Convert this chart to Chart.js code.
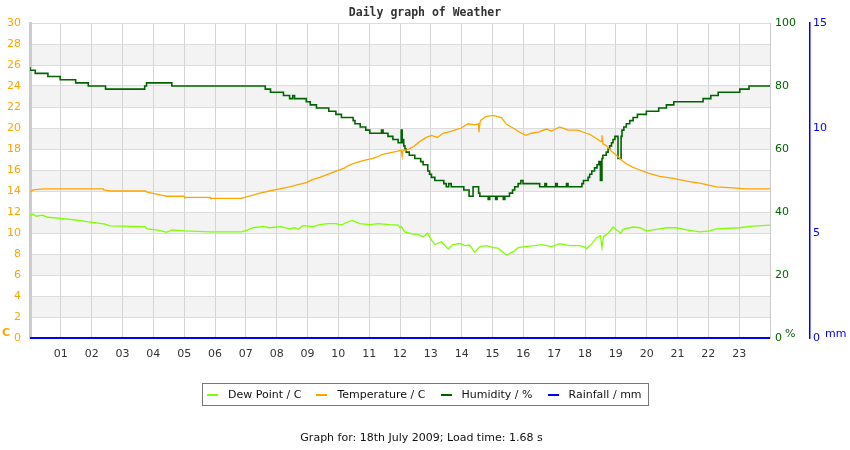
<!DOCTYPE html>
<html>
<head>
<meta charset="utf-8">
<script src="https://cdn.jsdelivr.net/npm/chart.js@4.4.1/dist/chart.umd.min.js"></script>
<style>
  body { margin: 0; background: #fff; font-family: "DejaVu Sans", sans-serif; }
  #wrap { position: relative; width: 850px; height: 450px; }
  #legend { position: absolute; left: 202px; top: 383px; width: 445px; height: 21px;
            border: 1px solid #777; display: flex; align-items: center; font-size: 11px; color: #111;
            white-space: nowrap; }
  #legend .item { display: flex; align-items: center; margin-left: 4px; margin-right: 11px; }
  #legend .sw { width: 11px; height: 2px; margin-right: 10px; }
  #footer { position: absolute; left: 0; width: 843px; top: 431px; text-align: center; font-size: 11px; color: #111; }
</style>
</head>
<body>
<div id="wrap">
  <canvas id="weatherChart" width="850" height="450"></canvas>
  <div id="legend"></div>
  <div id="footer">Graph for: 18th July 2009; Load time: 1.68 s</div>
</div>
<script>
// hours of the day (0-24)
var humTimes = [0, 0.17, 0.58, 0.98, 1.48, 1.89, 2.45, 3.72, 3.78, 4.6, 7.63, 7.8, 8.22, 8.42, 8.52, 8.58, 8.96, 9.09, 9.29, 9.69,
    9.92, 10.1, 10.48, 10.54, 10.71, 10.89, 11.02, 11.4, 11.45, 11.61, 11.77, 11.94, 12.04, 12.07, 12.09, 12.12, 12.16, 12.2, 12.3, 12.48,
    12.67, 12.75, 12.9, 12.96, 13.02, 13.13, 13.42, 13.5, 13.58, 13.66, 14.07, 14.24, 14.37, 14.55, 14.59, 14.86, 14.91, 15.1, 15.15, 15.35,
    15.4, 15.55, 15.65, 15.72, 15.83, 15.92, 15.99, 16.53, 16.7, 16.75, 17.05, 17.1, 17.4, 17.45, 17.9, 17.95, 18.1, 18.15, 18.22, 18.31,
    18.39, 18.45, 18.5, 18.55, 18.58, 18.69, 18.75, 18.8, 18.86, 18.91, 18.97, 19.07, 19.17, 19.2, 19.26, 19.34, 19.45, 19.56, 19.7, 19.99,
    20.39, 20.64, 20.88, 21.83, 22.08, 22.32, 23.02, 23.32, 23.95, 24];
var humValues = [86, 85, 84, 83, 82, 81, 80, 79, 80, 81, 80, 79, 78, 77, 76, 77, 76, 75, 74, 73,
    72, 71, 70, 69, 68, 67, 66, 65, 66, 65, 64, 63, 62, 66, 62, 63, 61, 60, 59, 58,
    57, 56, 55, 53, 52, 51, 50, 49, 48, 49, 48, 47, 45, 48, 46, 45, 44, 45, 44, 45,
    44, 45, 46, 47, 48, 49, 50, 49, 48, 49, 48, 49, 48, 49, 48, 49, 50, 51, 52, 53,
    54, 55, 56, 50, 57, 58, 59, 60, 61, 62, 63, 64, 57, 64, 66, 67, 68, 69, 70, 71,
    72, 73, 74, 75, 76, 77, 78, 79, 80, 80];

var tempTimes = [0, 0.1, 0.44, 2.37, 2.4, 2.6, 3.74, 3.8, 3.95, 4.1, 4.26, 4.42, 5.0, 5.02, 5.84, 5.86, 6.85, 7.02, 7.23, 7.45,
    7.77, 8.1, 8.42, 8.69, 8.96, 9.18, 9.4, 9.67, 9.93, 10.21, 10.31, 10.48, 10.8, 11.13, 11.45, 11.77, 11.94, 12.04, 12.07, 12.1,
    12.21, 12.42, 12.64, 12.85, 13.02, 13.21, 13.4, 13.67, 13.99, 14.21, 14.42, 14.55, 14.56, 14.6, 14.64, 14.8, 15.02, 15.29, 15.45, 15.67,
    15.88, 16.07, 16.26, 16.48, 16.75, 16.91, 17.18, 17.45, 17.77, 18.04, 18.15, 18.37, 18.52, 18.55, 18.58, 18.7, 18.85, 19.02, 19.18, 19.34,
    19.56, 19.78, 20.05, 20.42, 20.86, 21.29, 21.72, 22.26, 22.8, 23.23, 24];
var tempValues = [13.9, 14.1, 14.2, 14.2, 14.1, 14.0, 14.0, 13.9, 13.8, 13.7, 13.6, 13.5, 13.5, 13.4, 13.4, 13.3, 13.3, 13.45, 13.6, 13.8,
    14.0, 14.2, 14.4, 14.6, 14.8, 15.1, 15.3, 15.6, 15.9, 16.2, 16.4, 16.6, 16.9, 17.1, 17.5, 17.7, 17.8, 17.9, 17.3, 17.9,
    17.9, 18.2, 18.7, 19.1, 19.3, 19.1, 19.5, 19.7, 20.0, 20.4, 20.3, 20.4, 19.6, 20.6, 20.8, 21.1, 21.2, 21.0, 20.35, 20.0,
    19.6, 19.3, 19.5, 19.6, 19.9, 19.7, 20.1, 19.8, 19.8, 19.5, 19.4, 19.0, 18.7, 19.3, 18.5, 18.3, 17.8, 17.4, 16.95, 16.6,
    16.25, 16.0, 15.7, 15.4, 15.2, 14.95, 14.76, 14.4, 14.3, 14.2, 14.2];

var dewTimes = [0, 0.1, 0.2, 0.4, 0.58, 0.98, 1.48, 1.89, 2.4, 2.6, 3.72, 3.8, 4.1, 4.26, 4.42, 4.6, 5.02, 5.86, 6.85, 7.02,
    7.23, 7.56, 7.77, 8.15, 8.42, 8.58, 8.7, 8.85, 9.18, 9.4, 9.67, 9.93, 10.1, 10.26, 10.45, 10.69, 11.02, 11.3, 11.65, 11.94,
    12.0, 12.05, 12.15, 12.37, 12.58, 12.75, 12.9, 13.02, 13.13, 13.34, 13.56, 13.72, 13.94, 14.1, 14.26, 14.42, 14.59, 14.8, 15.02, 15.18,
    15.45, 15.67, 15.83, 16.04, 16.37, 16.59, 16.91, 17.18, 17.5, 17.83, 18.0, 18.05, 18.2, 18.37, 18.5, 18.55, 18.6, 18.75, 18.91, 19.02,
    19.16, 19.22, 19.29, 19.56, 19.78, 19.99, 20.42, 20.64, 20.96, 21.29, 21.72, 22.05, 22.26, 23.02, 23.32, 24];
var dewValues = [11.7, 11.8, 11.6, 11.7, 11.5, 11.4, 11.24, 11.05, 10.86, 10.67, 10.6, 10.4, 10.3, 10.2, 10.06, 10.3, 10.2, 10.1, 10.1, 10.26,
    10.5, 10.63, 10.5, 10.6, 10.4, 10.5, 10.35, 10.7, 10.6, 10.8, 10.9, 10.9, 10.75, 11.0, 11.2, 10.9, 10.8, 10.9, 10.8, 10.75,
    10.5, 10.6, 10.1, 9.93, 9.87, 9.65, 9.97, 9.33, 8.9, 9.17, 8.5, 8.9, 9.0, 8.8, 8.85, 8.16, 8.7, 8.8, 8.6, 8.55,
    7.9, 8.2, 8.6, 8.7, 8.8, 8.9, 8.7, 8.98, 8.8, 8.8, 8.65, 8.5, 8.9, 9.55, 9.74, 8.6, 9.65, 9.97, 10.57, 10.3,
    9.97, 10.3, 10.4, 10.57, 10.5, 10.2, 10.4, 10.5, 10.5, 10.3, 10.1, 10.2, 10.4, 10.5, 10.63, 10.75];

var rainTimes = [0, 24];
var rainValues = [0, 0];

var hourLabels = ['01', '02', '03', '04', '05', '06', '07', '08', '09', '10', '11', '12',
    '13', '14', '15', '16', '17', '18', '19', '20', '21', '22', '23'];

function pairs(times, values) {
    return times.map(function (t, i) { return { x: t, y: values[i] }; });
}

// alternating grey bands, title and unit labels
var decorPlugin = {
    id: 'decor',
    beforeDraw: function (chart) {
        var c = chart.ctx, a = chart.chartArea, y = chart.scales.y;
        c.save();
        c.fillStyle = '#f3f3f3';
        for (var v = 26; v >= 2; v -= 4) {
            var top = y.getPixelForValue(v + 2), bot = y.getPixelForValue(v);
            c.fillRect(a.left, top, a.right - a.left, bot - top);
        }
        c.restore();
    },
    afterDraw: function (chart) {
        var c = chart.ctx;
        c.save();
        c.textBaseline = 'middle';
        c.textAlign = 'center';
        c.fillStyle = '#333';
        c.font = 'bold 11.5px "DejaVu Sans Mono"';
        c.fillText('Daily graph of Weather', 425, 13);
        c.textAlign = 'left';
        c.font = 'bold 11px "DejaVu Sans"';
        c.fillStyle = '#ffa500';
        c.fillText('C', 2, 333);
        c.font = '11px "DejaVu Sans"';
        c.fillStyle = '#006400';
        c.fillText('%', 785, 334);
        c.fillStyle = '#0000ff';
        c.fillText('mm', 825, 334);
        c.restore();
    }
};

var ctx = document.getElementById('weatherChart').getContext('2d');
var chart = new Chart(ctx, {
    type: 'line',
    data: {
        datasets: [{
            label: 'Dew Point / C',
            data: pairs(dewTimes, dewValues),
            borderColor: '#7fff00',
            borderWidth: 1.3,
            yAxisID: 'y'
        }, {
            label: 'Temperature / C',
            data: pairs(tempTimes, tempValues),
            borderColor: '#ffa500',
            borderWidth: 1.3,
            yAxisID: 'y'
        }, {
            label: 'Humidity / %',
            data: pairs(humTimes, humValues),
            borderColor: '#006400',
            borderWidth: 1.6,
            stepped: 'after',
            yAxisID: 'y1'
        }, {
            label: 'Rainfall / mm',
            data: pairs(rainTimes, rainValues),
            borderColor: '#0000ff',
            borderWidth: 2,
            clip: false,
            yAxisID: 'y2'
        }]
    },
    options: {
        responsive: false,
        animation: false,
        layout: { padding: { top: 23, bottom: 82, left: 0, right: 0 } },
        elements: { point: { radius: 0 }, line: { tension: 0 } },
        plugins: { legend: { display: false }, tooltip: { enabled: false } },
        scales: {
            x: {
                type: 'linear',
                min: 0,
                max: 24,
                afterFit: function (s) { s.height = 30; },
                afterBuildTicks: function (s) {
                    s.ticks = [];
                    for (var h = 0; h <= 24; h++) s.ticks.push({ value: h });
                },
                ticks: {
                    autoSkip: false,
                    maxRotation: 0,
                    padding: 10,
                    color: '#333',
                    font: { family: 'DejaVu Sans', size: 11 },
                    callback: function (v) { return hourLabels[v - 1] || ''; }
                },
                grid: { color: '#d4d4d4', drawTicks: false },
                border: { color: '#cccccc' }
            },
            y: {
                position: 'left',
                min: 0,
                max: 30,
                afterFit: function (s) { s.width = 30; },
                ticks: {
                    stepSize: 2,
                    padding: 9,
                    color: '#ffa500',
                    font: { family: 'DejaVu Sans', size: 11 }
                },
                grid: { color: '#dcdcdc', drawTicks: false },
                border: { color: '#cccccc', width: 3 }
            },
            y1: {
                position: 'right',
                weight: 0,
                min: 0,
                max: 100,
                afterFit: function (s) { s.width = 40; },
                ticks: {
                    stepSize: 20,
                    padding: 5,
                    color: '#006400',
                    font: { family: 'DejaVu Sans', size: 11 }
                },
                grid: { display: false, drawTicks: false },
                border: { color: '#cccccc' }
            },
            y2: {
                position: 'right',
                weight: 1,
                min: 0,
                max: 15,
                afterFit: function (s) { s.width = 40; },
                ticks: {
                    stepSize: 5,
                    padding: 3,
                    color: '#0000ff',
                    font: { family: 'DejaVu Sans', size: 11 }
                },
                grid: { display: false, drawTicks: false },
                border: { color: '#0000ff', width: 1.5 }
            }
        }
    },
    plugins: [decorPlugin]
});

// legend box built from the datasets
var legend = document.getElementById('legend');
chart.data.datasets.forEach(function (ds) {
    var item = document.createElement('span');
    item.className = 'item';
    var sw = document.createElement('span');
    sw.className = 'sw';
    sw.style.background = ds.borderColor;
    item.appendChild(sw);
    item.appendChild(document.createTextNode(ds.label));
    legend.appendChild(item);
});
</script>
</body>
</html>
